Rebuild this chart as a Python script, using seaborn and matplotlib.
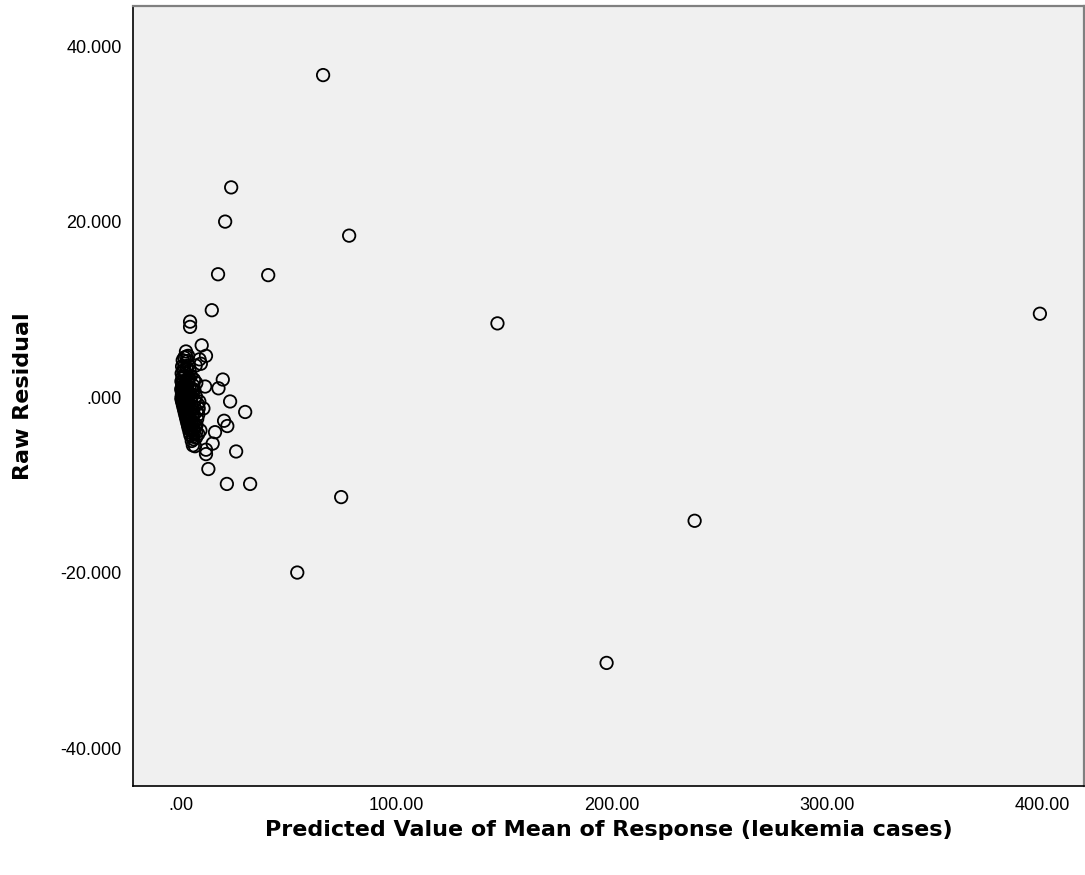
import seaborn as sns
import matplotlib.pyplot as plt
import matplotlib.ticker as mticker
import pandas as pd

# points away from the main cluster (predicted, residual)
outer_pred = [66.0, 23.3, 20.5, 78.1, 17.2, 40.5, 147.0, 399.0, 14.3, 4.2, 4.2,
              9.6, 2.3, 11.6, 19.4, 17.4, 11.2, 22.8, 29.8, 10.4, 20.0, 21.5,
              15.8, 14.7, 6.5, 11.6, 11.6, 25.6, 12.7, 21.3, 32.1, 74.4, 54.0,
              238.6, 197.7]
outer_resid = [36.7, 23.9, 20.0, 18.4, 14.0, 13.9, 8.4, 9.5, 9.9, 8.6, 8.0,
               5.9, 5.2, 4.7, 2.0, 1.0, 1.2, -0.5, -1.7, -1.3, -2.7, -3.3,
               -4.0, -5.3, -5.6, -6.0, -6.5, -6.2, -8.2, -9.9, -9.9, -11.4, -20.0,
               -14.1, -30.3]

# dense cluster near zero
cluster_pred = [0.3, 0.6, 0.9, 1.2, 1.5, 1.8, 2.1, 2.4, 2.7, 3.0, 3.3, 3.6, 4.0, 4.4, 5.0, 5.5,
                0.1, 0.4, 0.7, 1.0, 1.3, 1.6, 2.0, 2.4, 2.8, 3.2, 3.7, 4.2, 4.8, 5.5,
                0.2, 0.5, 0.8, 1.1, 1.5, 1.9, 2.3, 2.8, 3.3, 3.9, 4.5, 5.2, 6.0,
                0.3, 0.7, 1.2, 1.7, 2.2, 2.7, 3.2, 3.8, 4.4, 5.1, 6.0, 7.0,
                0.5, 1.0, 1.6, 2.2, 2.9, 3.6, 4.3, 5.1, 6.0, 7.2,
                0.8, 1.5, 2.3, 3.1, 4.0, 5.0, 6.1, 7.5,
                1.5, 2.6, 3.8, 5.0, 6.4, 8.0,
                2.4, 4.0, 5.7, 7.8,
                3.3, 6.0, 8.5,
                8.0, 9.0, 7.0, 5.8, 9.2, 8.6, 6.8,
                0.2, 0.4, 0.6, 0.9, 1.1, 1.4, 1.7, 2.0, 2.5, 3.0, 3.5,
                4.6, 5.3, 6.2, 6.9, 7.4, 4.9, 5.6, 6.6, 3.4, 2.9, 7.1, 8.2]
cluster_resid = [-0.3, -0.6, -0.9, -1.2, -1.5, -1.8, -2.1, -2.4, -2.7, -3.0, -3.3, -3.6, -4.0, -4.4, -5.0, -5.5,
                 0.9, 0.6, 0.3, 0.0, -0.3, -0.6, -1.0, -1.4, -1.8, -2.2, -2.7, -3.2, -3.8, -4.5,
                 1.8, 1.5, 1.2, 0.9, 0.5, 0.1, -0.3, -0.8, -1.3, -1.9, -2.5, -3.2, -4.0,
                 2.7, 2.3, 1.8, 1.3, 0.8, 0.3, -0.2, -0.8, -1.4, -2.1, -3.0, -4.0,
                 3.5, 3.0, 2.4, 1.8, 1.1, 0.4, -0.3, -1.1, -2.0, -3.2,
                 4.2, 3.5, 2.7, 1.9, 1.0, 0.0, -1.1, -2.5,
                 4.5, 3.4, 2.2, 1.0, -0.4, -2.0,
                 4.6, 3.0, 1.3, -0.8,
                 4.7, 2.0, -0.5,
                 -4.2, -3.8, -4.6, -4.8, 3.8, 4.3, 3.6,
                 -0.1, 0.2, -0.4, 0.5, -0.7, 1.0, -0.2, 0.4, 1.3, 0.7, 2.1,
                 2.4, 0.7, 0.8, 0.1, -1.6, -2.9, -3.6, -3.4, 3.6, 4.1, 1.6, -1.3]

df = pd.DataFrame({
    "pred": outer_pred + cluster_pred,
    "resid": outer_resid + cluster_resid,
})

sns.set_style("white")
plt.rcParams["text.color"] = "black"
plt.rcParams["axes.labelcolor"] = "black"
plt.rcParams["xtick.color"] = "black"
plt.rcParams["ytick.color"] = "black"

fig = plt.figure(figsize=(10.85, 8.75), dpi=100)
ax = fig.add_axes([0.1226, 0.1017, 0.8765, 0.8913])
ax.set_facecolor("#f0f0f0")

sns.scatterplot(data=df, x="pred", y="resid", ax=ax, s=80, marker="o",
                facecolor="none", edgecolor="black", linewidth=1.3)

ax.set_xlim(-22.3, 419.5)
ax.set_ylim(-44.33, 44.56)
ax.set_xticks([0, 100, 200, 300, 400])
ax.set_yticks([-40, -20, 0, 20, 40])
ax.xaxis.set_major_formatter(mticker.FuncFormatter(lambda v, p: ".00" if v == 0 else f"{v:.2f}"))
ax.yaxis.set_major_formatter(mticker.FuncFormatter(lambda v, p: ".000" if v == 0 else f"{v:.3f}"))
ax.tick_params(axis="both", direction="out", length=6, width=1.2, color="black",
               labelsize=13, pad=2, labelcolor="black")
for lab in ax.get_xticklabels() + ax.get_yticklabels():
    lab.set_fontfamily("Liberation Sans")

for side in ["left", "bottom"]:
    ax.spines[side].set_color("black")
    ax.spines[side].set_linewidth(1.2)
for side in ["top", "right"]:
    ax.spines[side].set_color("#808080")
    ax.spines[side].set_linewidth(1.6)

ax.set_xlabel("Predicted Value of Mean of Response (leukemia cases)",
              fontsize=16, fontweight="bold", labelpad=4, color="black")
ax.set_ylabel("Raw Residual", fontsize=16, fontweight="bold", labelpad=20, color="black")

plt.savefig("out.png", dpi=100)
